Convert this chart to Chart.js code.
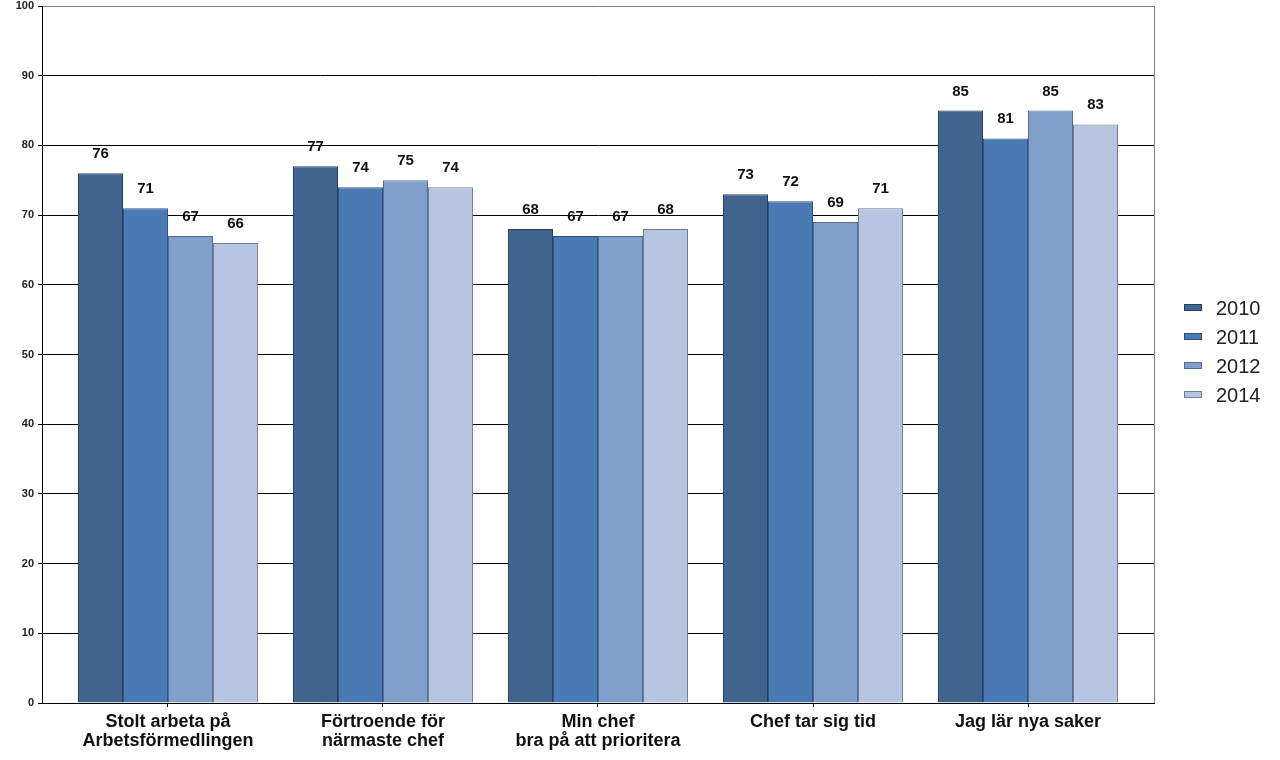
<!DOCTYPE html>
<html>
<head>
<meta charset="utf-8">
<script src="https://cdn.jsdelivr.net/npm/chart.js@4/dist/chart.umd.min.js"></script>
<style>
  html, body { margin: 0; padding: 0; background: #ffffff; }
  #wrap { width: 1280px; height: 760px; position: relative; }
</style>
</head>
<body>
<div id="wrap"><canvas id="c" width="1280" height="760"></canvas></div>
<script>
const categories = [
  ["Stolt arbeta på", "Arbetsförmedlingen"],
  ["Förtroende för", "närmaste chef"],
  ["Min chef", "bra på att prioritera"],
  ["Chef tar sig tid"],
  ["Jag lär nya saker"]
];
const seriesNames = ["2010", "2011", "2012", "2014"];
const values2010 = [76, 77, 68, 73, 85];
const values2011 = [71, 74, 67, 72, 81];
const values2012 = [67, 75, 67, 69, 85];
const values2014 = [66, 74, 68, 71, 83];
const yTicks = [0, 10, 20, 30, 40, 50, 60, 70, 80, 90, 100];

const fills = ["#41648f", "#4a7ab4", "#819fcb", "#b7c5e0"];
const borders = ["#263f60", "#2f527e", "#526d93", "#6f7c93"];
const FONT = '"Liberation Sans", Arial, sans-serif';

const allValues = [values2010, values2011, values2012, values2014];
const datasets = allValues.map((vals, i) => ({
  label: seriesNames[i],
  data: vals.map((v, k) => ({ x: k, y: v })),
  backgroundColor: fills[i],
  borderColor: borders[i],
  borderWidth: 1,
  categoryPercentage: 0.837,
  barPercentage: 1.0
}));

const valueLabels = {
  id: 'valueLabels',
  afterDatasetsDraw(chart) {
    const ctx = chart.ctx;
    ctx.save();
    ctx.font = 'bold 15px ' + FONT;
    ctx.fillStyle = '#111111';
    ctx.textAlign = 'center';
    ctx.textBaseline = 'alphabetic';
    chart.data.datasets.forEach((ds, di) => {
      const meta = chart.getDatasetMeta(di);
      meta.data.forEach((el, k) => {
        ctx.fillText(String(ds.data[k].y), el.x, el.y - 15);
      });
    });
    ctx.restore();
  }
};

const frame = {
  id: 'frame',
  afterDraw(chart) {
    const ctx = chart.ctx;
    const a = chart.chartArea;
    ctx.save();
    ctx.strokeStyle = '#808080';
    ctx.lineWidth = 1;
    ctx.beginPath();
    ctx.moveTo(Math.round(a.right) + 0.5, a.top);
    ctx.lineTo(Math.round(a.right) + 0.5, a.bottom);
    ctx.stroke();
    ctx.restore();
  }
};

const sideLegend = {
  id: 'sideLegend',
  afterDraw(chart) {
    const ctx = chart.ctx;
    ctx.save();
    ctx.font = '20px ' + FONT;
    ctx.textBaseline = 'middle';
    ctx.textAlign = 'left';
    chart.data.datasets.forEach((ds, i) => {
      const cy = 308 + i * 29.1;
      ctx.fillStyle = ds.backgroundColor;
      ctx.fillRect(1184, Math.round(cy - 4), 18, 7);
      ctx.strokeStyle = ds.borderColor;
      ctx.lineWidth = 1;
      ctx.strokeRect(1184.5, Math.round(cy - 4) + 0.5, 17, 6);
      ctx.fillStyle = '#222222';
      ctx.fillText(ds.label, 1216, cy + 1);
    });
    ctx.restore();
  }
};

new Chart(document.getElementById('c'), {
  type: 'bar',
  data: { datasets },
  plugins: [valueLabels, frame, sideLegend],
  options: {
    responsive: false,
    animation: false,
    events: [],
    layout: { padding: { top: 6, right: 126, left: 0, bottom: 0 } },
    plugins: { legend: { display: false }, tooltip: { enabled: false } },
    scales: {
      x: {
        type: 'linear',
        min: -0.586,
        max: 4.586,
        offset: false,
        afterFit(scale) { scale.height = 57; scale.paddingLeft = 0; scale.paddingRight = 0; },
        afterBuildTicks(scale) {
          scale.ticks = categories.map((c, k) => ({ value: k }));
        },
        ticks: {
          stepSize: 1,
          includeBounds: false,
          autoSkip: false,
          maxRotation: 0,
          minRotation: 0,
          padding: 6,
          color: '#111111',
          font: { family: FONT, size: 18, weight: 'bold', lineHeight: 1.02 },
          callback: (v) => categories[v] || ''
        },
        grid: { display: true, offset: false, drawOnChartArea: false, tickLength: 4, color: '#000000', tickColor: '#000000' },
        border: { display: true, color: '#000000', width: 1 }
      },
      y: {
        min: 0,
        max: 100,
        afterFit(scale) { scale.width = 42; scale.paddingTop = 0; scale.paddingBottom = 0; },
        afterBuildTicks(scale) {
          scale.ticks = yTicks.map(v => ({ value: v }));
        },
        ticks: {
          stepSize: 10,
          padding: 4,
          color: '#222222',
          font: { family: FONT, size: 11, weight: 'bold' }
        },
        grid: {
          tickLength: 4,
          color: (c) => (c.tick && c.tick.value === 100 ? '#808080' : '#000000'),
          tickColor: '#000000'
        },
        border: { display: true, color: '#000000', width: 1 }
      }
    }
  }
});
</script>
</body>
</html>
